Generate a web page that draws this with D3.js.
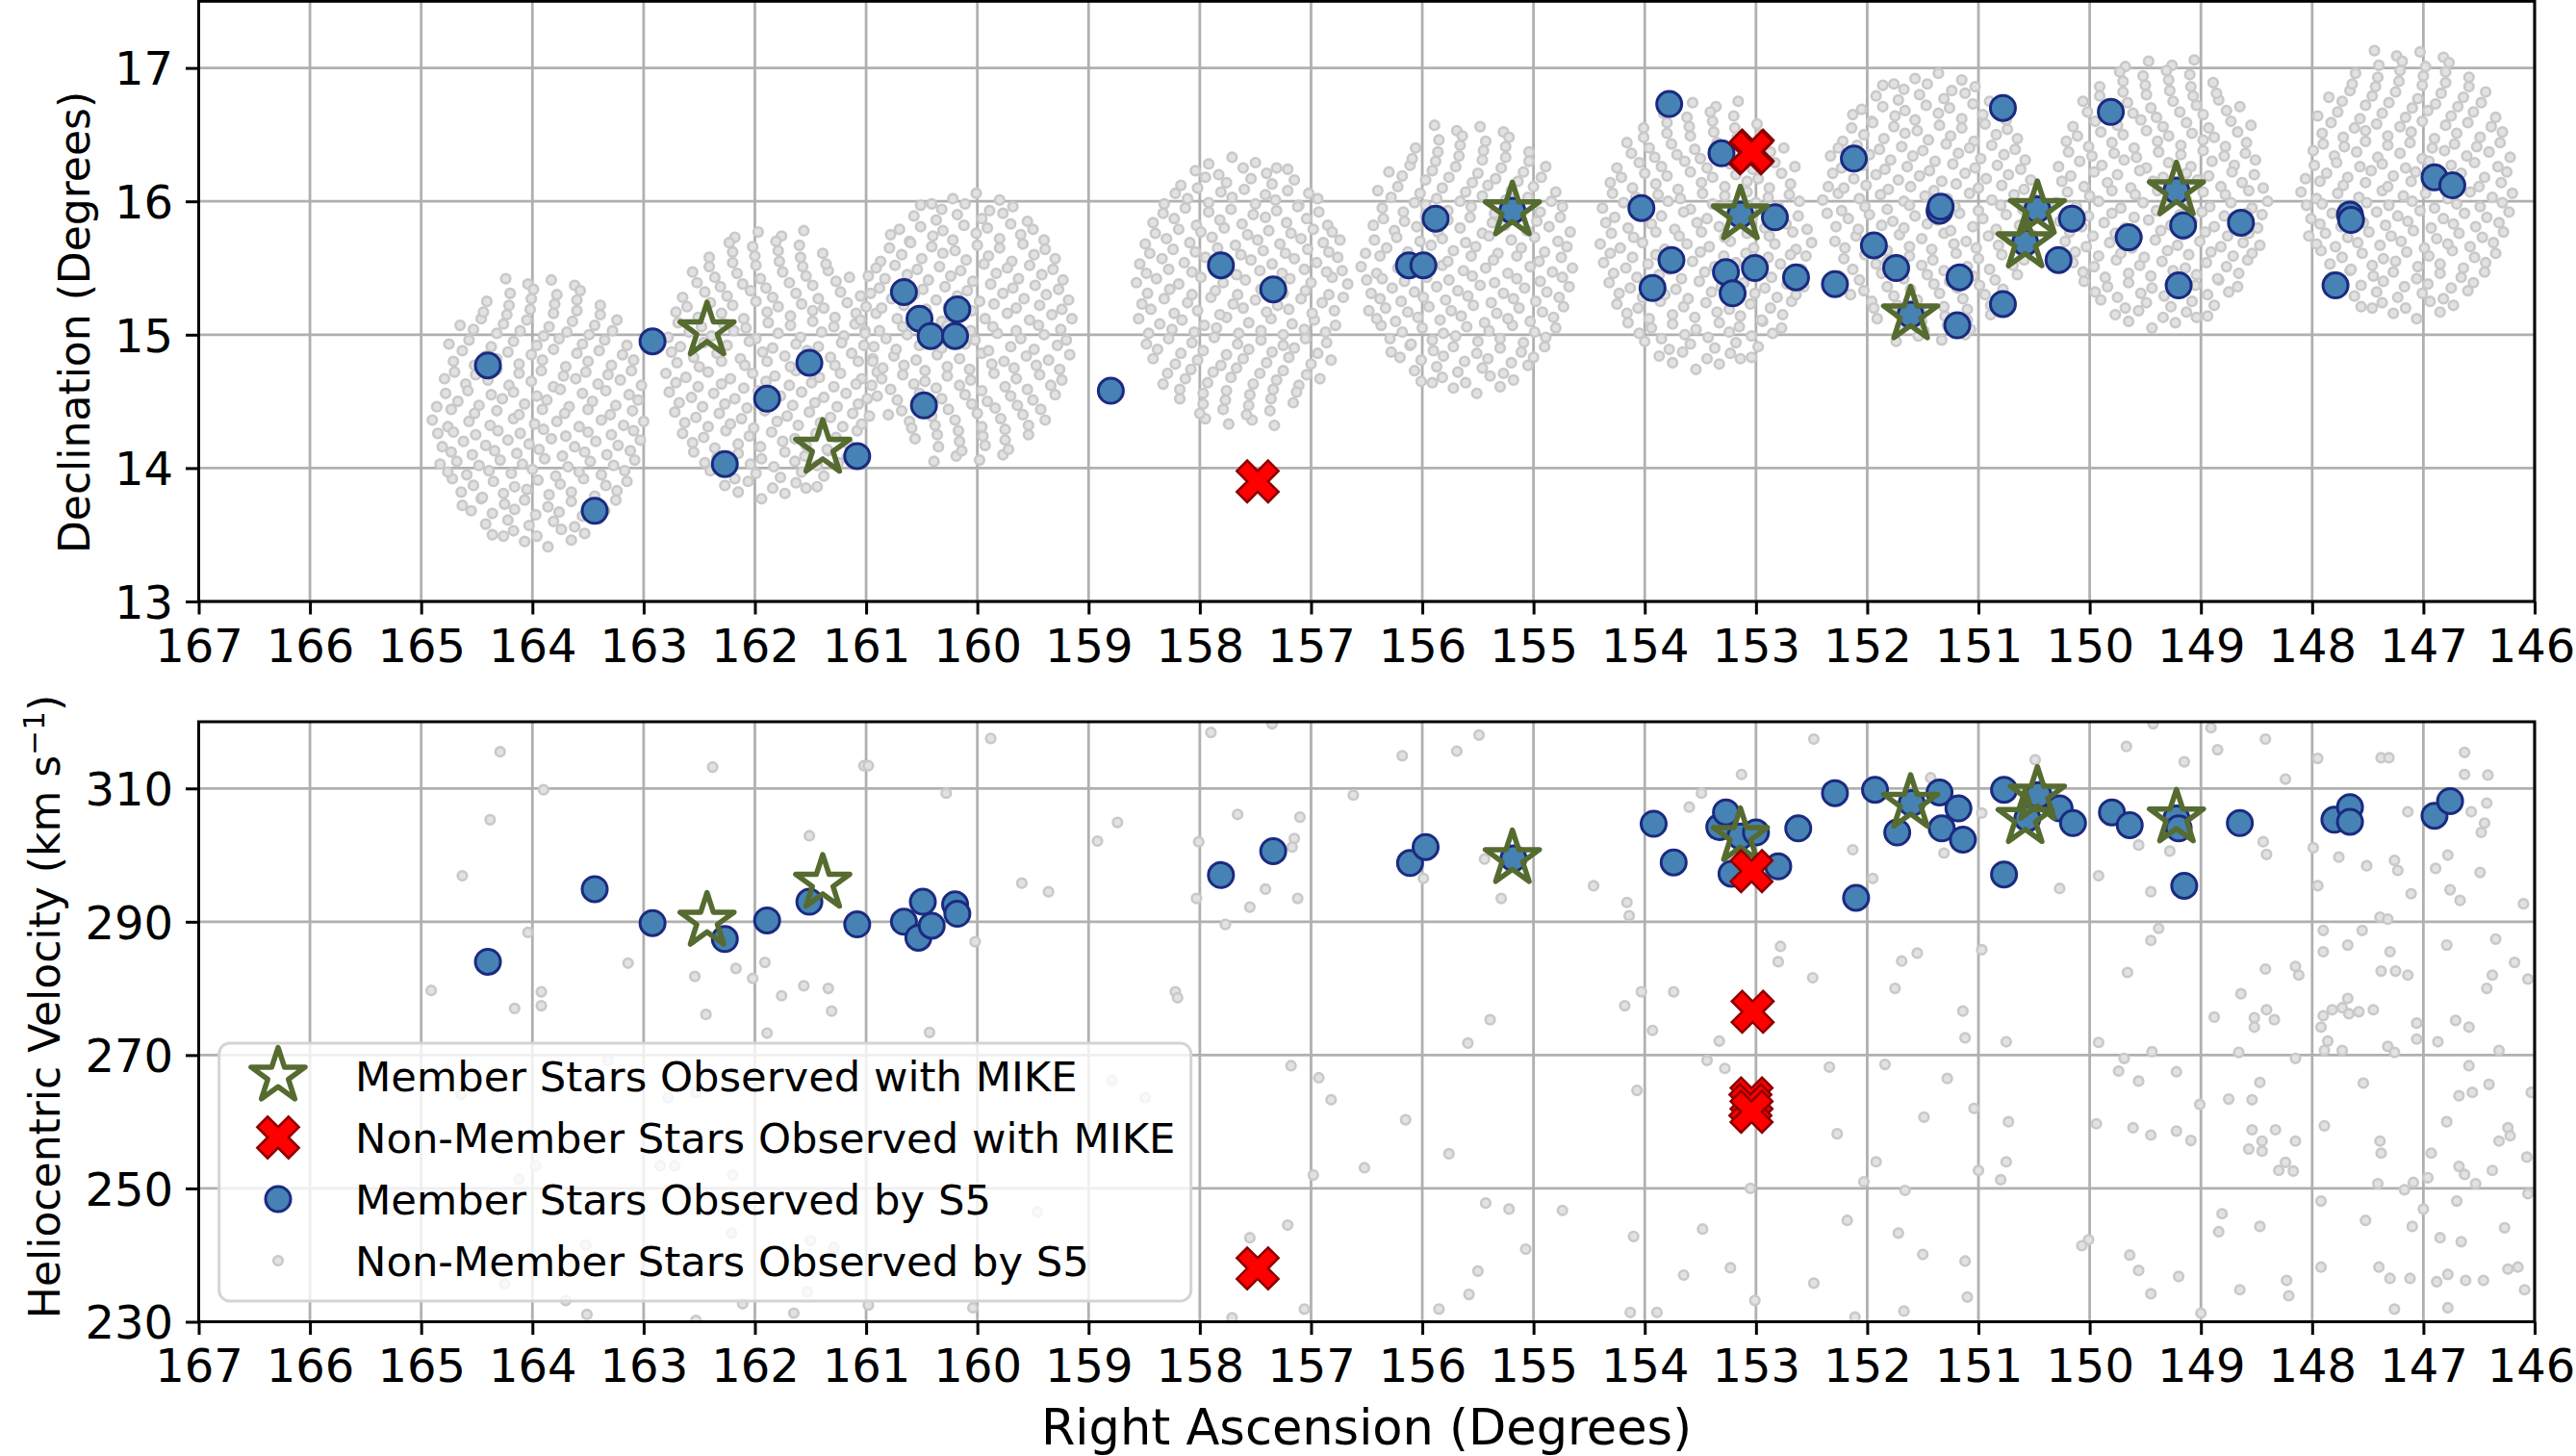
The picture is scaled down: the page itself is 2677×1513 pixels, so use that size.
<!DOCTYPE html>
<html><head><meta charset="utf-8">
<script src="https://cdn.jsdelivr.net/npm/d3@7"></script>
<style>body{margin:0;background:#fff;}svg{display:block;}</style>
</head><body>
<svg id="chart" width="2677" height="1513"></svg>
<script>
// ---------------- DATA ----------------
const raTickValues = [167,166,165,164,163,162,161,160,159,158,157,156,155,154,153,152,151,150,149,148,147,146];
const decTickValues = [13,14,15,16,17];
const velTickValues = [230,250,270,290,310];
const legendLabels = ["Member Stars Observed with MIKE","Non-Member Stars Observed with MIKE","Member Stars Observed by S5","Non-Member Stars Observed by S5"];

// MIKE members (stars)
const mikeMemberRA  = [162.43,161.39,155.19,153.14,151.61,150.47,150.58,149.22];
const mikeMemberDec = [15.03,14.15,15.93,15.90,15.15,15.94,15.69,16.08];
const mikeMemberVel = [290.1,295.8,299.5,302.8,307.8,309.0,305.5,305.6];
// MIKE non-members (X)
const mikeNonRA  = [157.48,153.04,153.03,153.04,153.05,153.04];
const mikeNonDec = [13.90,16.37,16.38,16.37,16.36,16.37];
const mikeNonVel = [238.0,297.6,276.5,263.5,262.5,261.5];

// S5 members, top panel [RA, Dec]
const s5MemberTop = [[164.40,14.77],[163.44,13.68],[162.92,14.95],[162.27,14.03],[161.89,14.52],[161.51,14.79],[161.08,14.09],
[160.66,15.32],[160.52,15.12],[160.48,14.47],[160.42,14.99],[160.20,14.99],[160.18,15.19],[158.80,14.58],[157.81,15.52],[157.34,15.34],
[156.12,15.52],[155.99,15.52],[155.88,15.87],[155.19,15.93],[154.03,15.95],[153.78,16.73],[153.76,15.56],[153.93,15.35],[153.31,16.36],
[153.27,15.47],[153.21,15.31],[153.14,15.90],[153.01,15.50],[152.83,15.88],[152.64,15.43],[152.29,15.38],[152.12,16.32],[151.94,15.67],
[151.74,15.50],[151.61,15.15],[151.35,15.93],[151.34,15.96],[151.17,15.43],[151.19,15.07],[150.78,16.70],[150.78,15.23],[150.47,15.94],
[150.58,15.69],[150.28,15.56],[150.16,15.87],[149.81,16.67],[149.65,15.73],[149.22,16.08],[149.16,15.82],[149.20,15.37],[148.64,15.84],
[147.79,15.37],[147.66,15.90],[147.65,15.86],[146.90,16.18],[146.74,16.12]];
// S5 members, bottom panel [RA, velocity]
const s5MemberBottom = [[164.40,284.0],[163.44,294.9],[162.92,289.8],[162.27,287.4],[161.89,290.2],[161.51,293.0],[161.08,289.6],
[160.66,290.0],[160.53,287.6],[160.49,293.0],[160.41,289.4],[160.20,292.6],[160.18,291.2],[157.81,297.0],[157.34,300.6],[156.11,298.8],
[155.97,301.2],[155.18,299.5],[153.92,304.7],[153.74,298.9],[153.33,304.2],[153.27,306.4],[153.22,297.2],[153.14,302.8],[153.00,303.4],
[152.80,298.3],[152.62,304.0],[152.29,309.3],[152.10,293.6],[151.93,309.8],[151.60,307.8],[151.73,303.4],[151.35,309.4],[151.33,304.0],
[151.18,307.0],[151.14,302.3],[150.77,309.8],[150.77,297.1],[150.46,309.0],[150.56,305.5],[150.27,307.0],[150.15,304.8],[149.80,306.4],
[149.64,304.5],[149.22,305.5],[149.20,304.0],[149.15,295.4],[148.65,304.8],[147.80,305.3],[147.66,307.2],[147.66,305.0],[146.90,305.9],[146.76,308.1]];

// S5 non-members, top panel, one array per S5 field [RA, Dec]
const field1 = [[163.65,13.46],[163.86,13.41],[164.07,13.45],[164.26,13.49],
[163.40,13.62],[163.62,13.56],[163.81,13.60],[164.03,13.57],[164.22,13.61],[164.42,13.58],
[163.25,13.76],[163.46,13.72],[163.65,13.75],[163.86,13.71],[164.07,13.76],[164.25,13.73],[164.46,13.77],[164.63,13.72],
[163.15,13.90],[163.34,13.87],[163.54,13.92],[163.75,13.88],[163.95,13.91],[164.16,13.86],[164.35,13.90],[164.53,13.87],[164.72,13.92],
[163.08,14.06],[163.27,14.02],[163.48,14.05],[163.68,14.01],[163.89,14.07],[164.09,14.03],[164.29,14.06],[164.48,14.02],[164.68,14.05],[164.83,14.03],
[163.03,14.21],[163.23,14.17],[163.43,14.20],[163.62,14.16],[163.83,14.22],[164.03,14.18],[164.22,14.21],[164.42,14.17],[164.62,14.20],[164.81,14.16],
[163.00,14.35],[163.18,14.32],[163.38,14.36],[163.58,14.31],[163.78,14.35],[163.98,14.33],[164.17,14.37],[164.38,14.32],[164.57,14.35],[164.76,14.31],[164.90,14.36],
[163.05,14.51],[163.25,14.47],[163.46,14.50],[163.67,14.46],[163.87,14.51],[164.07,14.48],[164.27,14.52],[164.48,14.47],[164.67,14.50],[164.86,14.46],
[163.02,14.62],[163.21,14.66],[163.41,14.63],[163.61,14.67],[163.81,14.61],[164.01,14.65],[164.21,14.62],[164.40,14.66],[164.60,14.63],[164.79,14.67],
[163.09,14.81],[163.29,14.77],[163.50,14.80],[163.70,14.76],[163.91,14.81],[164.12,14.78],[164.32,14.82],[164.52,14.77],[164.71,14.80],
[163.15,14.92],[163.35,14.96],[163.55,14.93],[163.76,14.97],[163.96,14.92],[164.17,14.95],[164.37,14.91],[164.57,14.96],[164.75,14.93],
[163.24,15.11],[163.44,15.07],[163.64,15.10],[163.85,15.06],[164.05,15.11],[164.26,15.08],[164.46,15.12],[164.65,15.07],
[163.39,15.22],[163.60,15.26],[163.80,15.23],[164.01,15.27],[164.21,15.22],[164.41,15.25],
[163.62,15.37],[163.83,15.41],[164.04,15.38],[164.24,15.42],
[163.53,13.51],[163.74,13.54],[163.96,13.49],[164.17,13.53],[164.36,13.50],
[163.35,13.68],[163.55,13.64],[163.76,13.67],[163.97,13.65],[164.16,13.69],[164.36,13.66],[164.55,13.68],
[163.24,13.83],[163.44,13.79],[163.65,13.82],[163.85,13.80],[164.05,13.84],[164.26,13.81],[164.45,13.78],[164.64,13.82],
[163.17,13.98],[163.38,13.95],[163.58,13.97],[163.79,13.94],[164.00,13.99],[164.19,13.96],[164.39,13.98],[164.59,13.95],[164.76,13.97],
[163.12,14.13],[163.33,14.10],[163.53,14.12],[163.73,14.09],[163.94,14.14],[164.14,14.11],[164.34,14.13],[164.54,14.10],[164.73,14.12],
[163.09,14.28],[163.29,14.25],[163.50,14.27],[163.70,14.24],[163.90,14.29],[164.11,14.26],[164.31,14.28],[164.51,14.25],[164.71,14.27],[164.85,14.26],
[163.10,14.43],[163.30,14.40],[163.50,14.44],[163.71,14.41],[163.91,14.44],[164.12,14.40],[164.32,14.43],[164.52,14.41],[164.73,14.44],
[163.13,14.55],[163.34,14.58],[163.55,14.56],[163.75,14.59],[163.96,14.54],[164.17,14.57],[164.37,14.55],[164.58,14.58],[164.78,14.56],
[163.11,14.73],[163.32,14.70],[163.52,14.72],[163.72,14.69],[163.92,14.73],[164.12,14.71],[164.32,14.74],[164.51,14.70],[164.70,14.72],
[163.19,14.85],[163.40,14.88],[163.60,14.86],[163.81,14.89],[164.01,14.85],[164.22,14.87],[164.42,14.84],[164.63,14.88],
[163.28,15.03],[163.49,15.00],[163.69,15.02],[163.90,14.99],[164.11,15.03],[164.32,15.01],[164.53,15.04],
[163.39,15.15],[163.60,15.18],[163.81,15.16],[164.02,15.19],[164.23,15.15],[164.44,15.17],
[163.57,15.33],[163.78,15.30],[163.99,15.34],[164.20,15.31]];
const field2 = [[162.15,13.82],[161.94,13.77],[161.73,13.81],[161.54,13.85],
[162.40,13.98],[162.18,13.92],[161.99,13.96],[161.77,13.93],[161.58,13.97],[161.38,13.94],
[162.55,14.12],[162.34,14.08],[162.15,14.11],[161.94,14.07],[161.73,14.12],[161.55,14.09],[161.34,14.13],[161.17,14.08],
[162.65,14.26],[162.46,14.23],[162.26,14.28],[162.05,14.24],[161.85,14.27],[161.64,14.22],[161.45,14.26],[161.27,14.23],[161.08,14.28],
[162.72,14.42],[162.53,14.38],[162.32,14.41],[162.12,14.37],[161.91,14.43],[161.71,14.39],[161.51,14.42],[161.32,14.38],[161.12,14.41],[160.97,14.39],
[162.77,14.57],[162.57,14.53],[162.37,14.56],[162.18,14.52],[161.97,14.58],[161.77,14.54],[161.58,14.57],[161.38,14.53],[161.18,14.56],[160.99,14.52],
[162.80,14.71],[162.62,14.68],[162.42,14.72],[162.22,14.67],[162.02,14.71],[161.82,14.69],[161.63,14.73],[161.42,14.68],[161.23,14.71],[161.04,14.67],[160.90,14.72],
[162.75,14.87],[162.55,14.83],[162.34,14.86],[162.13,14.82],[161.93,14.87],[161.73,14.84],[161.53,14.88],[161.32,14.83],[161.13,14.86],[160.94,14.82],
[162.78,14.98],[162.59,15.02],[162.39,14.99],[162.19,15.03],[161.99,14.97],[161.79,15.01],[161.59,14.98],[161.40,15.02],[161.20,14.99],[161.01,15.03],
[162.71,15.17],[162.51,15.13],[162.30,15.16],[162.10,15.12],[161.89,15.17],[161.68,15.14],[161.48,15.18],[161.28,15.13],[161.09,15.16],
[162.65,15.28],[162.45,15.32],[162.25,15.29],[162.04,15.33],[161.84,15.28],[161.63,15.31],[161.43,15.27],[161.23,15.32],[161.05,15.29],
[162.56,15.47],[162.36,15.43],[162.16,15.46],[161.95,15.42],[161.75,15.47],[161.54,15.44],[161.34,15.48],[161.15,15.43],
[162.41,15.58],[162.20,15.62],[162.00,15.59],[161.79,15.63],[161.59,15.58],[161.39,15.61],
[162.18,15.73],[161.97,15.77],[161.76,15.74],[161.56,15.78],
[162.27,13.87],[162.06,13.90],[161.84,13.85],[161.63,13.89],[161.44,13.86],
[162.45,14.04],[162.25,14.00],[162.04,14.03],[161.83,14.01],[161.64,14.05],[161.44,14.02],[161.25,14.04],
[162.56,14.19],[162.36,14.15],[162.15,14.18],[161.95,14.16],[161.75,14.20],[161.54,14.17],[161.35,14.14],[161.16,14.18],
[162.63,14.34],[162.42,14.31],[162.22,14.33],[162.01,14.30],[161.80,14.35],[161.61,14.32],[161.41,14.34],[161.21,14.31],[161.04,14.33],
[162.68,14.49],[162.47,14.46],[162.27,14.48],[162.07,14.45],[161.86,14.50],[161.66,14.47],[161.46,14.49],[161.26,14.46],[161.07,14.48],
[162.71,14.64],[162.51,14.61],[162.30,14.63],[162.10,14.60],[161.90,14.65],[161.69,14.62],[161.49,14.64],[161.29,14.61],[161.09,14.63],[160.95,14.62],
[162.70,14.79],[162.50,14.76],[162.30,14.80],[162.09,14.77],[161.89,14.80],[161.68,14.76],[161.48,14.79],[161.28,14.77],[161.07,14.80],
[162.67,14.91],[162.46,14.94],[162.25,14.92],[162.05,14.95],[161.84,14.90],[161.63,14.93],[161.43,14.91],[161.22,14.94],[161.02,14.92],
[162.69,15.09],[162.48,15.06],[162.28,15.08],[162.08,15.05],[161.88,15.09],[161.68,15.07],[161.48,15.10],[161.29,15.06],[161.10,15.08],
[162.61,15.21],[162.40,15.24],[162.20,15.22],[161.99,15.25],[161.79,15.21],[161.58,15.23],[161.38,15.20],[161.17,15.24],
[162.52,15.39],[162.31,15.36],[162.11,15.38],[161.90,15.35],[161.69,15.39],[161.48,15.37],[161.27,15.40],
[162.41,15.51],[162.20,15.54],[161.99,15.52],[161.78,15.55],[161.57,15.51],[161.36,15.53],
[162.23,15.69],[162.02,15.66],[161.81,15.70],[161.60,15.67]];
const field3 = [[159.80,16.01],[160.01,16.06],[160.22,16.02],[160.41,15.98],
[159.55,15.85],[159.77,15.91],[159.96,15.87],[160.18,15.90],[160.37,15.86],[160.57,15.89],
[159.40,15.71],[159.61,15.75],[159.80,15.72],[160.01,15.76],[160.22,15.71],[160.40,15.74],[160.61,15.70],[160.78,15.75],
[159.30,15.57],[159.49,15.60],[159.69,15.55],[159.90,15.59],[160.10,15.56],[160.31,15.61],[160.50,15.57],[160.68,15.60],[160.87,15.55],
[159.23,15.41],[159.42,15.45],[159.63,15.42],[159.83,15.46],[160.04,15.40],[160.24,15.44],[160.44,15.41],[160.63,15.45],[160.83,15.42],[160.98,15.44],
[159.18,15.26],[159.38,15.30],[159.58,15.27],[159.77,15.31],[159.98,15.25],[160.18,15.29],[160.37,15.26],[160.57,15.30],[160.77,15.27],[160.96,15.31],
[159.15,15.12],[159.33,15.15],[159.53,15.11],[159.73,15.16],[159.93,15.12],[160.13,15.14],[160.32,15.10],[160.53,15.15],[160.72,15.12],[160.91,15.16],[161.05,15.11],
[159.20,14.96],[159.40,15.00],[159.61,14.97],[159.82,15.01],[160.02,14.96],[160.22,14.99],[160.42,14.95],[160.63,15.00],[160.82,14.97],[161.01,15.01],
[159.17,14.85],[159.36,14.81],[159.56,14.84],[159.76,14.80],[159.96,14.86],[160.16,14.82],[160.36,14.85],[160.55,14.81],[160.75,14.84],[160.94,14.80],
[159.24,14.66],[159.44,14.70],[159.65,14.67],[159.85,14.71],[160.06,14.66],[160.27,14.69],[160.47,14.65],[160.67,14.70],[160.86,14.67],
[159.30,14.55],[159.50,14.51],[159.70,14.54],[159.91,14.50],[160.11,14.55],[160.32,14.52],[160.52,14.56],[160.72,14.51],[160.90,14.54],
[159.39,14.36],[159.59,14.40],[159.79,14.37],[160.00,14.41],[160.20,14.36],[160.41,14.39],[160.61,14.35],[160.80,14.40],
[159.54,14.25],[159.75,14.21],[159.95,14.24],[160.16,14.20],[160.36,14.25],[160.56,14.22],
[159.77,14.10],[159.98,14.06],[160.19,14.09],[160.39,14.05],
[159.68,15.96],[159.89,15.93],[160.11,15.98],[160.32,15.94],[160.51,15.97],
[159.50,15.79],[159.70,15.83],[159.91,15.80],[160.12,15.82],[160.31,15.78],[160.51,15.81],[160.70,15.79],
[159.39,15.64],[159.59,15.68],[159.80,15.65],[160.00,15.67],[160.20,15.63],[160.41,15.66],[160.60,15.69],[160.79,15.65],
[159.32,15.49],[159.53,15.52],[159.73,15.50],[159.94,15.53],[160.15,15.48],[160.34,15.51],[160.54,15.49],[160.74,15.52],[160.91,15.50],
[159.27,15.34],[159.48,15.37],[159.68,15.35],[159.88,15.38],[160.09,15.33],[160.29,15.36],[160.49,15.34],[160.69,15.37],[160.88,15.35],
[159.24,15.19],[159.44,15.22],[159.65,15.20],[159.85,15.23],[160.05,15.18],[160.26,15.21],[160.46,15.19],[160.66,15.22],[160.86,15.20],[161.00,15.21],
[159.25,15.04],[159.45,15.07],[159.65,15.03],[159.86,15.06],[160.06,15.03],[160.27,15.07],[160.47,15.04],[160.67,15.06],[160.88,15.03],
[159.28,14.92],[159.49,14.89],[159.70,14.91],[159.90,14.88],[160.11,14.93],[160.32,14.90],[160.52,14.92],[160.73,14.89],[160.93,14.91],
[159.26,14.74],[159.47,14.77],[159.67,14.75],[159.87,14.78],[160.07,14.74],[160.27,14.76],[160.47,14.73],[160.66,14.77],[160.85,14.75],
[159.34,14.62],[159.55,14.59],[159.75,14.61],[159.96,14.58],[160.16,14.62],[160.37,14.60],[160.57,14.63],[160.78,14.59],
[159.43,14.44],[159.64,14.47],[159.84,14.45],[160.05,14.48],[160.26,14.44],[160.47,14.46],[160.68,14.43],
[159.54,14.32],[159.75,14.29],[159.96,14.31],[160.17,14.28],[160.38,14.32],[160.59,14.30],
[159.72,14.14],[159.93,14.17],[160.14,14.13],[160.35,14.16]];
const field4 = [[157.92,16.28],[157.71,16.33],[157.50,16.29],[157.31,16.25],
[158.17,16.12],[157.95,16.18],[157.76,16.14],[157.54,16.17],[157.35,16.13],[157.15,16.16],
[158.32,15.98],[158.11,16.02],[157.92,15.99],[157.71,16.03],[157.50,15.98],[157.32,16.01],[157.11,15.97],[156.94,16.02],
[158.42,15.84],[158.23,15.87],[158.03,15.82],[157.82,15.86],[157.62,15.83],[157.41,15.88],[157.22,15.84],[157.04,15.87],[156.85,15.82],
[158.49,15.68],[158.30,15.72],[158.09,15.69],[157.89,15.73],[157.68,15.67],[157.48,15.71],[157.28,15.68],[157.09,15.72],[156.89,15.69],[156.74,15.71],
[158.54,15.53],[158.34,15.57],[158.14,15.54],[157.95,15.58],[157.74,15.52],[157.54,15.56],[157.35,15.53],[157.15,15.57],[156.95,15.54],[156.76,15.58],
[158.57,15.39],[158.39,15.42],[158.19,15.38],[157.99,15.43],[157.79,15.39],[157.59,15.41],[157.40,15.37],[157.19,15.42],[157.00,15.39],[156.81,15.43],[156.67,15.38],
[158.52,15.23],[158.32,15.27],[158.11,15.24],[157.90,15.28],[157.70,15.23],[157.50,15.26],[157.30,15.22],[157.09,15.27],[156.90,15.24],[156.71,15.28],
[158.55,15.12],[158.36,15.08],[158.16,15.11],[157.96,15.07],[157.76,15.13],[157.56,15.09],[157.36,15.12],[157.17,15.08],[156.97,15.11],[156.78,15.07],
[158.48,14.93],[158.28,14.97],[158.07,14.94],[157.87,14.98],[157.66,14.93],[157.45,14.96],[157.25,14.92],[157.05,14.97],[156.86,14.94],
[158.42,14.82],[158.22,14.78],[158.02,14.81],[157.81,14.77],[157.61,14.82],[157.40,14.79],[157.20,14.83],[157.00,14.78],[156.82,14.81],
[158.33,14.63],[158.13,14.67],[157.93,14.64],[157.72,14.68],[157.52,14.63],[157.31,14.66],[157.11,14.62],[156.92,14.67],
[158.18,14.52],[157.97,14.48],[157.77,14.51],[157.56,14.47],[157.36,14.52],[157.16,14.49],
[157.95,14.37],[157.74,14.33],[157.53,14.36],[157.33,14.32],
[158.04,16.23],[157.83,16.20],[157.61,16.25],[157.40,16.21],[157.21,16.24],
[158.22,16.06],[158.02,16.10],[157.81,16.07],[157.60,16.09],[157.41,16.05],[157.21,16.08],[157.02,16.06],
[158.33,15.91],[158.13,15.95],[157.92,15.92],[157.72,15.94],[157.52,15.90],[157.31,15.93],[157.12,15.96],[156.93,15.92],
[158.40,15.76],[158.19,15.79],[157.99,15.77],[157.78,15.80],[157.57,15.75],[157.38,15.78],[157.18,15.76],[156.98,15.79],[156.81,15.77],
[158.45,15.61],[158.24,15.64],[158.04,15.62],[157.84,15.65],[157.63,15.60],[157.43,15.63],[157.23,15.61],[157.03,15.64],[156.84,15.62],
[158.48,15.46],[158.28,15.49],[158.07,15.47],[157.87,15.50],[157.67,15.45],[157.46,15.48],[157.26,15.46],[157.06,15.49],[156.86,15.47],[156.72,15.48],
[158.47,15.31],[158.27,15.34],[158.07,15.30],[157.86,15.33],[157.66,15.30],[157.45,15.34],[157.25,15.31],[157.05,15.33],[156.84,15.30],
[158.44,15.19],[158.23,15.16],[158.02,15.18],[157.82,15.15],[157.61,15.20],[157.40,15.17],[157.20,15.19],[156.99,15.16],[156.79,15.18],
[158.46,15.01],[158.25,15.04],[158.05,15.02],[157.85,15.05],[157.65,15.01],[157.45,15.03],[157.25,15.00],[157.06,15.04],[156.87,15.02],
[158.38,14.89],[158.17,14.86],[157.97,14.88],[157.76,14.85],[157.56,14.89],[157.35,14.87],[157.15,14.90],[156.94,14.86],
[158.29,14.71],[158.08,14.74],[157.88,14.72],[157.67,14.75],[157.46,14.71],[157.25,14.73],[157.04,14.70],
[158.18,14.59],[157.97,14.56],[157.76,14.58],[157.55,14.55],[157.34,14.59],[157.13,14.57],
[158.00,14.41],[157.79,14.44],[157.58,14.40],[157.37,14.43]];
const field5 = [[155.30,14.61],[155.51,14.56],[155.72,14.60],[155.91,14.64],
[155.05,14.77],[155.27,14.71],[155.46,14.75],[155.68,14.72],[155.87,14.76],[156.07,14.73],
[154.90,14.91],[155.11,14.87],[155.30,14.90],[155.51,14.86],[155.72,14.91],[155.90,14.88],[156.11,14.92],[156.28,14.87],
[154.80,15.05],[154.99,15.02],[155.19,15.07],[155.40,15.03],[155.60,15.06],[155.81,15.01],[156.00,15.05],[156.18,15.02],[156.37,15.07],
[154.73,15.21],[154.92,15.17],[155.13,15.20],[155.33,15.16],[155.54,15.22],[155.74,15.18],[155.94,15.21],[156.13,15.17],[156.33,15.20],[156.48,15.18],
[154.68,15.36],[154.88,15.32],[155.08,15.35],[155.27,15.31],[155.48,15.37],[155.68,15.33],[155.87,15.36],[156.07,15.32],[156.27,15.35],[156.46,15.31],
[154.65,15.50],[154.83,15.47],[155.03,15.51],[155.23,15.46],[155.43,15.50],[155.63,15.48],[155.82,15.52],[156.03,15.47],[156.22,15.50],[156.41,15.46],[156.55,15.51],
[154.70,15.66],[154.90,15.62],[155.11,15.65],[155.32,15.61],[155.52,15.66],[155.72,15.63],[155.92,15.67],[156.13,15.62],[156.32,15.65],[156.51,15.61],
[154.67,15.77],[154.86,15.81],[155.06,15.78],[155.26,15.82],[155.46,15.76],[155.66,15.80],[155.86,15.77],[156.05,15.81],[156.25,15.78],[156.44,15.82],
[154.74,15.96],[154.94,15.92],[155.15,15.95],[155.35,15.91],[155.56,15.96],[155.77,15.93],[155.97,15.97],[156.17,15.92],[156.36,15.95],
[154.80,16.07],[155.00,16.11],[155.20,16.08],[155.41,16.12],[155.61,16.07],[155.82,16.10],[156.02,16.06],[156.22,16.11],[156.40,16.08],
[154.89,16.26],[155.09,16.22],[155.29,16.25],[155.50,16.21],[155.70,16.26],[155.91,16.23],[156.11,16.27],[156.30,16.22],
[155.04,16.37],[155.25,16.41],[155.45,16.38],[155.66,16.42],[155.86,16.37],[156.06,16.40],
[155.27,16.52],[155.48,16.56],[155.69,16.53],[155.89,16.57],
[155.18,14.66],[155.39,14.69],[155.61,14.64],[155.82,14.68],[156.01,14.65],
[155.00,14.83],[155.20,14.79],[155.41,14.82],[155.62,14.80],[155.81,14.84],[156.01,14.81],[156.20,14.83],
[154.89,14.98],[155.09,14.94],[155.30,14.97],[155.50,14.95],[155.70,14.99],[155.91,14.96],[156.10,14.93],[156.29,14.97],
[154.82,15.13],[155.03,15.10],[155.23,15.12],[155.44,15.09],[155.65,15.14],[155.84,15.11],[156.04,15.13],[156.24,15.10],[156.41,15.12],
[154.77,15.28],[154.98,15.25],[155.18,15.27],[155.38,15.24],[155.59,15.29],[155.79,15.26],[155.99,15.28],[156.19,15.25],[156.38,15.27],
[154.74,15.43],[154.94,15.40],[155.15,15.42],[155.35,15.39],[155.55,15.44],[155.76,15.41],[155.96,15.43],[156.16,15.40],[156.36,15.42],[156.50,15.41],
[154.75,15.58],[154.95,15.55],[155.15,15.59],[155.36,15.56],[155.56,15.59],[155.77,15.55],[155.97,15.58],[156.17,15.56],[156.38,15.59],
[154.78,15.70],[154.99,15.73],[155.20,15.71],[155.40,15.74],[155.61,15.69],[155.82,15.72],[156.02,15.70],[156.23,15.73],[156.43,15.71],
[154.76,15.88],[154.97,15.85],[155.17,15.87],[155.37,15.84],[155.57,15.88],[155.77,15.86],[155.97,15.89],[156.16,15.85],[156.35,15.87],
[154.84,16.00],[155.05,16.03],[155.25,16.01],[155.46,16.04],[155.66,16.00],[155.87,16.02],[156.07,15.99],[156.28,16.03],
[154.93,16.18],[155.14,16.15],[155.34,16.17],[155.55,16.14],[155.76,16.18],[155.97,16.16],[156.18,16.19],
[155.04,16.30],[155.25,16.33],[155.46,16.31],[155.67,16.34],[155.88,16.30],[156.09,16.32],
[155.22,16.48],[155.43,16.45],[155.64,16.49],[155.85,16.46]];
const field6 = [[153.75,14.79],[153.54,14.74],[153.33,14.78],[153.14,14.82],
[154.00,14.95],[153.78,14.89],[153.59,14.93],[153.37,14.90],[153.18,14.94],[152.98,14.91],
[154.15,15.09],[153.94,15.05],[153.75,15.08],[153.54,15.04],[153.33,15.09],[153.15,15.06],[152.94,15.10],[152.77,15.05],
[154.25,15.23],[154.06,15.20],[153.86,15.25],[153.65,15.21],[153.45,15.24],[153.24,15.19],[153.05,15.23],[152.87,15.20],[152.68,15.25],
[154.32,15.39],[154.13,15.35],[153.92,15.38],[153.72,15.34],[153.51,15.40],[153.31,15.36],[153.11,15.39],[152.92,15.35],[152.72,15.38],[152.57,15.36],
[154.37,15.54],[154.17,15.50],[153.97,15.53],[153.78,15.49],[153.57,15.55],[153.37,15.51],[153.18,15.54],[152.98,15.50],[152.78,15.53],[152.59,15.49],
[154.40,15.68],[154.22,15.65],[154.02,15.69],[153.82,15.64],[153.62,15.68],[153.42,15.66],[153.23,15.70],[153.02,15.65],[152.83,15.68],[152.64,15.64],[152.50,15.69],
[154.35,15.84],[154.15,15.80],[153.94,15.83],[153.73,15.79],[153.53,15.84],[153.33,15.81],[153.13,15.85],[152.92,15.80],[152.73,15.83],[152.54,15.79],
[154.38,15.95],[154.19,15.99],[153.99,15.96],[153.79,16.00],[153.59,15.94],[153.39,15.98],[153.19,15.95],[153.00,15.99],[152.80,15.96],[152.61,16.00],
[154.31,16.14],[154.11,16.10],[153.90,16.13],[153.70,16.09],[153.49,16.14],[153.28,16.11],[153.08,16.15],[152.88,16.10],[152.69,16.13],
[154.25,16.25],[154.05,16.29],[153.85,16.26],[153.64,16.30],[153.44,16.25],[153.23,16.28],[153.03,16.24],[152.83,16.29],[152.65,16.26],
[154.16,16.44],[153.96,16.40],[153.76,16.43],[153.55,16.39],[153.35,16.44],[153.14,16.41],[152.94,16.45],[152.75,16.40],
[154.01,16.55],[153.80,16.59],[153.60,16.56],[153.39,16.60],[153.19,16.55],[152.99,16.58],
[153.78,16.70],[153.57,16.74],[153.36,16.71],[153.16,16.75],
[153.87,14.84],[153.66,14.87],[153.44,14.82],[153.23,14.86],[153.04,14.83],
[154.05,15.01],[153.85,14.97],[153.64,15.00],[153.43,14.98],[153.24,15.02],[153.04,14.99],[152.85,15.01],
[154.16,15.16],[153.96,15.12],[153.75,15.15],[153.55,15.13],[153.35,15.17],[153.14,15.14],[152.95,15.11],[152.76,15.15],
[154.23,15.31],[154.02,15.28],[153.82,15.30],[153.61,15.27],[153.40,15.32],[153.21,15.29],[153.01,15.31],[152.81,15.28],[152.64,15.30],
[154.28,15.46],[154.07,15.43],[153.87,15.45],[153.67,15.42],[153.46,15.47],[153.26,15.44],[153.06,15.46],[152.86,15.43],[152.67,15.45],
[154.31,15.61],[154.11,15.58],[153.90,15.60],[153.70,15.57],[153.50,15.62],[153.29,15.59],[153.09,15.61],[152.89,15.58],[152.69,15.60],[152.55,15.59],
[154.30,15.76],[154.10,15.73],[153.90,15.77],[153.69,15.74],[153.49,15.77],[153.28,15.73],[153.08,15.76],[152.88,15.74],[152.67,15.77],
[154.27,15.88],[154.06,15.91],[153.85,15.89],[153.65,15.92],[153.44,15.87],[153.23,15.90],[153.03,15.88],[152.82,15.91],[152.62,15.89],
[154.29,16.06],[154.08,16.03],[153.88,16.05],[153.68,16.02],[153.48,16.06],[153.28,16.04],[153.08,16.07],[152.89,16.03],[152.70,16.05],
[154.21,16.18],[154.00,16.21],[153.80,16.19],[153.59,16.22],[153.39,16.18],[153.18,16.20],[152.98,16.17],[152.77,16.21],
[154.12,16.36],[153.91,16.33],[153.71,16.35],[153.50,16.32],[153.29,16.36],[153.08,16.34],[152.87,16.37],
[154.01,16.48],[153.80,16.51],[153.59,16.49],[153.38,16.52],[153.17,16.48],[152.96,16.50],
[153.83,16.66],[153.62,16.63],[153.41,16.67],[153.20,16.64]];
const field7 = [[151.15,16.91],[151.36,16.96],[151.57,16.92],[151.76,16.88],
[150.90,16.75],[151.12,16.81],[151.31,16.77],[151.53,16.80],[151.72,16.76],[151.92,16.79],
[150.75,16.61],[150.96,16.65],[151.15,16.62],[151.36,16.66],[151.57,16.61],[151.75,16.64],[151.96,16.60],[152.13,16.65],
[150.65,16.47],[150.84,16.50],[151.04,16.45],[151.25,16.49],[151.45,16.46],[151.66,16.51],[151.85,16.47],[152.03,16.50],[152.22,16.45],
[150.58,16.31],[150.77,16.35],[150.98,16.32],[151.18,16.36],[151.39,16.30],[151.59,16.34],[151.79,16.31],[151.98,16.35],[152.18,16.32],[152.33,16.34],
[150.53,16.16],[150.73,16.20],[150.93,16.17],[151.12,16.21],[151.33,16.15],[151.53,16.19],[151.72,16.16],[151.92,16.20],[152.12,16.17],[152.31,16.21],
[150.50,16.02],[150.68,16.05],[150.88,16.01],[151.08,16.06],[151.28,16.02],[151.48,16.04],[151.67,16.00],[151.88,16.05],[152.07,16.02],[152.26,16.06],[152.40,16.01],
[150.55,15.86],[150.75,15.90],[150.96,15.87],[151.17,15.91],[151.37,15.86],[151.57,15.89],[151.77,15.85],[151.98,15.90],[152.17,15.87],[152.36,15.91],
[150.52,15.75],[150.71,15.71],[150.91,15.74],[151.11,15.70],[151.31,15.76],[151.51,15.72],[151.71,15.75],[151.90,15.71],[152.10,15.74],[152.29,15.70],
[150.59,15.56],[150.79,15.60],[151.00,15.57],[151.20,15.61],[151.41,15.56],[151.62,15.59],[151.82,15.55],[152.02,15.60],[152.21,15.57],
[150.65,15.45],[150.85,15.41],[151.05,15.44],[151.26,15.40],[151.46,15.45],[151.67,15.42],[151.87,15.46],[152.07,15.41],[152.25,15.44],
[150.74,15.26],[150.94,15.30],[151.14,15.27],[151.35,15.31],[151.55,15.26],[151.76,15.29],[151.96,15.25],[152.15,15.30],
[150.89,15.15],[151.10,15.11],[151.30,15.14],[151.51,15.10],[151.71,15.15],[151.91,15.12],
[151.12,15.00],[151.33,14.96],[151.54,14.99],[151.74,14.95],
[151.03,16.86],[151.24,16.83],[151.46,16.88],[151.67,16.84],[151.86,16.87],
[150.85,16.69],[151.05,16.73],[151.26,16.70],[151.47,16.72],[151.66,16.68],[151.86,16.71],[152.05,16.69],
[150.74,16.54],[150.94,16.58],[151.15,16.55],[151.35,16.57],[151.55,16.53],[151.76,16.56],[151.95,16.59],[152.14,16.55],
[150.67,16.39],[150.88,16.42],[151.08,16.40],[151.29,16.43],[151.50,16.38],[151.69,16.41],[151.89,16.39],[152.09,16.42],[152.26,16.40],
[150.62,16.24],[150.83,16.27],[151.03,16.25],[151.23,16.28],[151.44,16.23],[151.64,16.26],[151.84,16.24],[152.04,16.27],[152.23,16.25],
[150.59,16.09],[150.79,16.12],[151.00,16.10],[151.20,16.13],[151.40,16.08],[151.61,16.11],[151.81,16.09],[152.01,16.12],[152.21,16.10],[152.35,16.11],
[150.60,15.94],[150.80,15.97],[151.00,15.93],[151.21,15.96],[151.41,15.93],[151.62,15.97],[151.82,15.94],[152.02,15.96],[152.23,15.93],
[150.63,15.82],[150.84,15.79],[151.05,15.81],[151.25,15.78],[151.46,15.83],[151.67,15.80],[151.87,15.82],[152.08,15.79],[152.28,15.81],
[150.61,15.64],[150.82,15.67],[151.02,15.65],[151.22,15.68],[151.42,15.64],[151.62,15.66],[151.82,15.63],[152.01,15.67],[152.20,15.65],
[150.69,15.52],[150.90,15.49],[151.10,15.51],[151.31,15.48],[151.51,15.52],[151.72,15.50],[151.92,15.53],[152.13,15.49],
[150.78,15.34],[150.99,15.37],[151.19,15.35],[151.40,15.38],[151.61,15.34],[151.82,15.36],[152.03,15.33],
[150.89,15.22],[151.10,15.19],[151.31,15.21],[151.52,15.18],[151.73,15.22],[151.94,15.20],
[151.07,15.04],[151.28,15.07],[151.49,15.03],[151.70,15.06]];
const field8 = [[149.65,15.10],[149.44,15.05],[149.23,15.09],[149.04,15.13],
[149.90,15.26],[149.68,15.20],[149.49,15.24],[149.27,15.21],[149.08,15.25],[148.88,15.22],
[150.05,15.40],[149.84,15.36],[149.65,15.39],[149.44,15.35],[149.23,15.40],[149.05,15.37],[148.84,15.41],[148.67,15.36],
[150.15,15.54],[149.96,15.51],[149.76,15.56],[149.55,15.52],[149.35,15.55],[149.14,15.50],[148.95,15.54],[148.77,15.51],[148.58,15.56],
[150.22,15.70],[150.03,15.66],[149.82,15.69],[149.62,15.65],[149.41,15.71],[149.21,15.67],[149.01,15.70],[148.82,15.66],[148.62,15.69],[148.47,15.67],
[150.27,15.85],[150.07,15.81],[149.87,15.84],[149.68,15.80],[149.47,15.86],[149.27,15.82],[149.08,15.85],[148.88,15.81],[148.68,15.84],[148.49,15.80],
[150.30,15.99],[150.12,15.96],[149.92,16.00],[149.72,15.95],[149.52,15.99],[149.32,15.97],[149.13,16.01],[148.92,15.96],[148.73,15.99],[148.54,15.95],[148.40,16.00],
[150.25,16.15],[150.05,16.11],[149.84,16.14],[149.63,16.10],[149.43,16.15],[149.23,16.12],[149.03,16.16],[148.82,16.11],[148.63,16.14],[148.44,16.10],
[150.28,16.26],[150.09,16.30],[149.89,16.27],[149.69,16.31],[149.49,16.25],[149.29,16.29],[149.09,16.26],[148.90,16.30],[148.70,16.27],[148.51,16.31],
[150.21,16.45],[150.01,16.41],[149.80,16.44],[149.60,16.40],[149.39,16.45],[149.18,16.42],[148.98,16.46],[148.78,16.41],[148.59,16.44],
[150.15,16.56],[149.95,16.60],[149.75,16.57],[149.54,16.61],[149.34,16.56],[149.13,16.59],[148.93,16.55],[148.73,16.60],[148.55,16.57],
[150.06,16.75],[149.86,16.71],[149.66,16.74],[149.45,16.70],[149.25,16.75],[149.04,16.72],[148.84,16.76],[148.65,16.71],
[149.91,16.86],[149.70,16.90],[149.50,16.87],[149.29,16.91],[149.09,16.86],[148.89,16.89],
[149.68,17.01],[149.47,17.05],[149.26,17.02],[149.06,17.06],
[149.77,15.15],[149.56,15.18],[149.34,15.13],[149.13,15.17],[148.94,15.14],
[149.95,15.32],[149.75,15.28],[149.54,15.31],[149.33,15.29],[149.14,15.33],[148.94,15.30],[148.75,15.32],
[150.06,15.47],[149.86,15.43],[149.65,15.46],[149.45,15.44],[149.25,15.48],[149.04,15.45],[148.85,15.42],[148.66,15.46],
[150.13,15.62],[149.92,15.59],[149.72,15.61],[149.51,15.58],[149.30,15.63],[149.11,15.60],[148.91,15.62],[148.71,15.59],[148.54,15.61],
[150.18,15.77],[149.97,15.74],[149.77,15.76],[149.57,15.73],[149.36,15.78],[149.16,15.75],[148.96,15.77],[148.76,15.74],[148.57,15.76],
[150.21,15.92],[150.01,15.89],[149.80,15.91],[149.60,15.88],[149.40,15.93],[149.19,15.90],[148.99,15.92],[148.79,15.89],[148.59,15.91],[148.45,15.90],
[150.20,16.07],[150.00,16.04],[149.80,16.08],[149.59,16.05],[149.39,16.08],[149.18,16.04],[148.98,16.07],[148.78,16.05],[148.57,16.08],
[150.17,16.19],[149.96,16.22],[149.75,16.20],[149.55,16.23],[149.34,16.18],[149.13,16.21],[148.93,16.19],[148.72,16.22],[148.52,16.20],
[150.19,16.37],[149.98,16.34],[149.78,16.36],[149.58,16.33],[149.38,16.37],[149.18,16.35],[148.98,16.38],[148.79,16.34],[148.60,16.36],
[150.11,16.49],[149.90,16.52],[149.70,16.50],[149.49,16.53],[149.29,16.49],[149.08,16.51],[148.88,16.48],[148.67,16.52],
[150.02,16.67],[149.81,16.64],[149.61,16.66],[149.40,16.63],[149.19,16.67],[148.98,16.65],[148.77,16.68],
[149.91,16.79],[149.70,16.82],[149.49,16.80],[149.28,16.83],[149.07,16.79],[148.86,16.81],
[149.73,16.97],[149.52,16.94],[149.31,16.98],[149.10,16.95]];
const field9 = [[146.85,15.17],[147.06,15.12],[147.27,15.16],[147.46,15.20],
[146.60,15.33],[146.82,15.27],[147.01,15.31],[147.23,15.28],[147.42,15.32],[147.62,15.29],
[146.45,15.47],[146.66,15.43],[146.85,15.46],[147.06,15.42],[147.27,15.47],[147.45,15.44],[147.66,15.48],[147.83,15.43],
[146.35,15.61],[146.54,15.58],[146.74,15.63],[146.95,15.59],[147.15,15.62],[147.36,15.57],[147.55,15.61],[147.73,15.58],[147.92,15.63],
[146.28,15.77],[146.47,15.73],[146.68,15.76],[146.88,15.72],[147.09,15.78],[147.29,15.74],[147.49,15.77],[147.68,15.73],[147.88,15.76],[148.03,15.74],
[146.23,15.92],[146.43,15.88],[146.63,15.91],[146.82,15.87],[147.03,15.93],[147.23,15.89],[147.42,15.92],[147.62,15.88],[147.82,15.91],[148.01,15.87],
[146.20,16.06],[146.38,16.03],[146.58,16.07],[146.78,16.02],[146.98,16.06],[147.18,16.04],[147.37,16.08],[147.58,16.03],[147.77,16.06],[147.96,16.02],[148.10,16.07],
[146.25,16.22],[146.45,16.18],[146.66,16.21],[146.87,16.17],[147.07,16.22],[147.27,16.19],[147.47,16.23],[147.68,16.18],[147.87,16.21],[148.06,16.17],
[146.22,16.33],[146.41,16.37],[146.61,16.34],[146.81,16.38],[147.01,16.32],[147.21,16.36],[147.41,16.33],[147.60,16.37],[147.80,16.34],[147.99,16.38],
[146.29,16.52],[146.49,16.48],[146.70,16.51],[146.90,16.47],[147.11,16.52],[147.32,16.49],[147.52,16.53],[147.72,16.48],[147.91,16.51],
[146.35,16.63],[146.55,16.67],[146.75,16.64],[146.96,16.68],[147.16,16.63],[147.37,16.66],[147.57,16.62],[147.77,16.67],[147.95,16.64],
[146.44,16.82],[146.64,16.78],[146.84,16.81],[147.05,16.77],[147.25,16.82],[147.46,16.79],[147.66,16.83],[147.85,16.78],
[146.59,16.93],[146.80,16.97],[147.00,16.94],[147.21,16.98],[147.41,16.93],[147.61,16.96],
[146.82,17.08],[147.03,17.12],[147.24,17.09],[147.44,17.13],
[146.73,15.22],[146.94,15.25],[147.16,15.20],[147.37,15.24],[147.56,15.21],
[146.55,15.39],[146.75,15.35],[146.96,15.38],[147.17,15.36],[147.36,15.40],[147.56,15.37],[147.75,15.39],
[146.44,15.54],[146.64,15.50],[146.85,15.53],[147.05,15.51],[147.25,15.55],[147.46,15.52],[147.65,15.49],[147.84,15.53],
[146.37,15.69],[146.58,15.66],[146.78,15.68],[146.99,15.65],[147.20,15.70],[147.39,15.67],[147.59,15.69],[147.79,15.66],[147.96,15.68],
[146.32,15.84],[146.53,15.81],[146.73,15.83],[146.93,15.80],[147.14,15.85],[147.34,15.82],[147.54,15.84],[147.74,15.81],[147.93,15.83],
[146.29,15.99],[146.49,15.96],[146.70,15.98],[146.90,15.95],[147.10,16.00],[147.31,15.97],[147.51,15.99],[147.71,15.96],[147.91,15.98],[148.05,15.97],
[146.30,16.14],[146.50,16.11],[146.70,16.15],[146.91,16.12],[147.11,16.15],[147.32,16.11],[147.52,16.14],[147.72,16.12],[147.93,16.15],
[146.33,16.26],[146.54,16.29],[146.75,16.27],[146.95,16.30],[147.16,16.25],[147.37,16.28],[147.57,16.26],[147.78,16.29],[147.98,16.27],
[146.31,16.44],[146.52,16.41],[146.72,16.43],[146.92,16.40],[147.12,16.44],[147.32,16.42],[147.52,16.45],[147.71,16.41],[147.90,16.43],
[146.39,16.56],[146.60,16.59],[146.80,16.57],[147.01,16.60],[147.21,16.56],[147.42,16.58],[147.62,16.55],[147.83,16.59],
[146.48,16.74],[146.69,16.71],[146.89,16.73],[147.10,16.70],[147.31,16.74],[147.52,16.72],[147.73,16.75],
[146.59,16.86],[146.80,16.89],[147.01,16.87],[147.22,16.90],[147.43,16.86],[147.64,16.88],
[146.77,17.04],[146.98,17.01],[147.19,17.05],[147.40,17.02]];

// S5 non-members, bottom panel [RA, velocity]
const s5NonMemberBottom = [[164.29,315.5],[163.90,309.8],[164.38,305.3],[164.63,296.9],[164.04,288.4],[163.14,283.8],[162.54,281.8],[162.17,283.0],
[162.02,281.5],[161.91,283.9],[162.38,313.2],[161.51,302.9],[161.02,313.4],[164.91,279.7],[163.92,279.5],[163.92,277.4],[164.16,277.0],[162.44,276.1],
[161.76,278.9],[161.56,280.4],[161.34,280.0],[161.31,276.6],[161.89,273.3],[162.78,263.6],[162.53,264.4],[162.85,253.4],[162.72,253.4],[162.20,252.0],
[162.21,243.3],[161.50,242.2],[161.29,241.1],[161.53,234.5],[162.11,232.7],[161.65,231.3],[162.53,230.2],[163.51,231.1],[163.70,233.2],[164.25,235.7],
[164.12,251.4],[163.97,253.4],[164.64,264.1],[163.52,241.5],[163.32,269.2],
[160.98,313.4],[160.28,309.3],[159.88,317.5],[158.74,304.9],[158.92,302.1],[159.60,295.8],[159.36,294.5],[160.02,287.0],[160.43,273.4],[158.22,279.5],
[158.20,278.6],[157.90,318.4],[157.35,319.7],[157.66,306.1],[157.10,305.7],[158.01,302.0],[157.15,302.5],[157.17,301.2],[158.03,293.5],[157.55,292.2],
[157.41,294.9],[157.12,293.5],[157.77,289.6],[156.62,309.0],[156.18,314.9],[155.69,315.6],[155.49,318.0],[155.44,299.4],[155.29,293.5],[155.99,296.5],
[154.46,295.4],[154.16,292.9],[154.14,290.9],[153.60,307.2],[153.49,309.3],[154.03,279.5],[153.74,279.5],[154.18,277.4],[155.39,275.3],[153.93,273.7],
[155.59,271.8],[153.44,269.2],[154.07,264.7],[157.18,268.4],[156.93,266.6],[156.82,263.3],[156.15,260.3],[155.76,255.2],[156.52,253.1],[156.98,252.0],
[155.43,247.8],[155.22,246.9],[154.74,246.7],[153.48,243.9],[154.10,242.8],[155.07,240.9],[153.65,237.0],[155.50,237.6],[155.58,234.1],[155.85,231.9],
[154.13,231.4],[153.89,231.4],[157.21,244.5],[157.55,242.6],[157.06,231.9],[157.71,230.6],[160.98,232.5],[160.04,232.1],[158.79,266.2],[158.49,263.6],
[159.46,246.5],
[152.48,317.4],[153.13,312.1],[152.13,300.8],[151.95,296.5],[150.49,314.3],[150.97,306.3],[151.31,300.3],[151.43,311.6],[152.78,286.3],[152.80,284.0],
[152.49,281.6],[151.55,285.3],[151.69,284.1],[151.75,280.0],[150.97,285.8],[151.14,276.6],[151.12,272.6],[150.75,272.0],[153.33,272.1],[153.28,268.0],
[152.34,268.2],[151.84,268.6],[151.28,266.5],[151.04,262.0],[151.49,260.7],[150.73,260.0],[152.27,258.2],[151.92,254.0],[150.75,254.0],[151.00,252.7],
[150.80,251.3],[152.03,251.0],[151.66,249.7],[153.05,250.0],[152.18,245.2],[151.72,243.3],[151.50,240.1],[151.12,239.1],[153.23,238.1],[152.48,235.8],
[153.01,233.2],[151.10,233.7],[151.67,231.6],[152.11,230.7],
[149.67,316.3],[149.15,314.0],[149.43,319.7],[148.91,319.1],[148.85,315.8],[148.42,317.4],[148.24,311.4],[147.95,314.5],[147.38,314.6],[147.31,314.6],
[146.63,315.4],[146.63,312.1],[146.42,312.0],[146.43,307.8],[147.14,306.5],[146.57,306.5],[146.45,304.8],[146.48,303.4],[149.56,301.5],[149.92,296.9],
[150.27,295.0],[149.45,294.5],[149.28,300.6],[148.44,302.0],[148.41,300.1],[147.99,301.1],[147.76,299.7],[147.51,298.4],[147.26,299.2],[147.23,297.7],
[147.11,294.2],[147.95,295.4],[146.78,300.0],[146.89,298.0],[146.49,297.4],[146.76,294.8],[146.67,293.2],[146.10,292.7],[147.39,290.7],[147.32,290.4],
[149.45,287.2],[149.38,289.0],[149.66,282.4],[147.90,288.7],[147.90,285.5],[147.68,286.5],[147.55,288.7],[147.30,285.5],[147.38,282.6],[147.25,282.6],
[147.14,282.0],[146.79,286.5],[146.35,287.4],[146.18,283.9],[146.38,282.0],[146.43,280.0],[146.06,281.4],[148.88,275.7],[148.64,279.2],[148.42,282.9],
[148.15,283.3],[148.12,282.0],[148.52,275.6],[148.41,276.8],[148.34,275.3],[148.52,274.2],[147.90,275.9],[147.82,276.8],[147.73,277.1],[147.68,278.5],
[147.67,276.2],[147.58,276.5],[147.45,276.8],[147.92,274.2],[147.86,272.1],[147.73,270.7],[147.89,270.7],[147.06,274.8],[147.06,272.4],[147.32,271.3],
[147.26,270.4],[146.87,272.0],[146.71,275.2],[146.59,274.2],[146.32,270.7],[149.92,271.9],[149.44,270.5],[149.69,269.5],[149.74,267.6],[149.56,266.1],
[149.22,267.5],[148.66,270.4],[148.15,269.5],[148.47,265.9],[148.54,263.3],[148.75,263.4],[149.01,262.6],[147.54,265.8],[146.59,268.4],[146.68,263.9],
[146.56,264.4],[146.41,265.6],[146.03,264.4],[149.94,259.7],[149.61,259.1],[149.45,258.0],[149.22,258.6],[149.09,257.2],[148.54,258.8],[148.33,258.8],
[148.15,257.1],[148.45,257.1],[148.57,255.9],[148.45,255.6],[148.24,253.9],[148.30,252.7],[148.17,252.6],[147.89,259.4],[147.39,257.1],[147.38,255.3],
[146.93,255.3],[146.79,260.0],[146.68,253.3],[146.63,252.1],[146.38,252.7],[146.53,250.7],[146.32,257.1],[146.24,259.1],[146.22,257.9],[146.07,254.7],
[147.41,250.7],[147.17,249.8],[147.09,250.9],[146.96,251.6],[146.06,249.2],[148.81,246.2],[148.84,243.5],[148.47,244.3],[147.92,248.1],[147.52,245.2],
[147.10,244.3],[147.00,246.9],[146.70,248.1],[146.85,242.6],[146.66,242.0],[146.27,244.1],[150.01,242.3],[150.07,241.4],[149.64,240.0],[149.56,237.7],
[149.45,234.2],[149.20,236.8],[148.65,234.8],[148.23,236.2],[148.21,233.9],[147.92,238.2],[147.40,238.2],[147.30,236.5],[147.12,236.5],[147.26,231.9],
[146.88,236.0],[146.78,237.1],[146.62,236.2],[146.46,236.2],[146.24,237.9],[146.15,238.2],[146.09,234.8],[146.78,232.1],[149.00,231.3]];

// ---------------- DRAWING ----------------
const FONT = '"DejaVu Sans", "Liberation Sans", sans-serif';
const C = {
  grid:'#b0b0b0', gray:'#c9c9c9', grayFill:'#e2e2e2', blueFill:'#4682b4', blueEdge:'#1b2a80',
  starEdge:'#556b2f', xFill:'#ff0000', xEdge:'#8b0000'
};
const svg = d3.select('#chart');
const x = d3.scaleLinear().domain([167,146]).range([206.5,2634]);
const yTop = d3.scaleLinear().domain([13,17.5]).range([625,1.3]);
const yBot = d3.scaleLinear().domain([230,320]).range([1373.5,750]);

function starPath(R){
  const r = R*0.381966, p=[];
  for(let i=0;i<10;i++){const a=-Math.PI/2+i*Math.PI/5, rr=i%2?r:R; p.push([rr*Math.cos(a), rr*Math.sin(a)]);}
  return 'M'+p.map(q=>q[0].toFixed(2)+','+q[1].toFixed(2)).join('L')+'Z';
}
const plusPts=[[-1,-3],[1,-3],[1,-1],[3,-1],[3,1],[1,1],[1,3],[-1,3],[-1,1],[-3,1],[-3,-1],[-1,-1]];
function xMarkPath(S){
  const c=Math.SQRT1_2;
  return 'M'+plusPts.map(([a,b])=>((a*c-b*c)*S/6).toFixed(2)+','+((a*c+b*c)*S/6).toFixed(2)).join('L')+'Z';
}
const STAR = starPath(29.5), XM = xMarkPath(46);

function drawGray(g, pts){
  g.selectAll(null).data(pts).enter().append('circle')
    .attr('cx',d=>d[0]).attr('cy',d=>d[1]).attr('r',4.8)
    .attr('fill',C.grayFill).attr('stroke',C.gray).attr('stroke-width',2.6);
}
function drawBlue(g, pts){
  g.selectAll(null).data(pts).enter().append('circle')
    .attr('cx',d=>d[0]).attr('cy',d=>d[1]).attr('r',13)
    .attr('fill',C.blueFill).attr('stroke',C.blueEdge).attr('stroke-width',3);
}
function drawStars(g, pts){
  g.selectAll(null).data(pts).enter().append('path').attr('d',STAR)
    .attr('transform',d=>`translate(${d[0]},${d[1]})`)
    .attr('fill','none').attr('stroke',C.starEdge).attr('stroke-width',5.5).attr('stroke-linejoin','round');
}
function drawX(g, pts){
  g.selectAll(null).data(pts).enter().append('path').attr('d',XM)
    .attr('transform',d=>`translate(${d[0]},${d[1]})`)
    .attr('fill',C.xFill).attr('stroke',C.xEdge).attr('stroke-width',2.5).attr('stroke-linejoin','miter');
}

function makePanel(id, yScale, yTicks){
  const [y0,y1] = [yScale.range()[1], yScale.range()[0]];
  const x0 = x.range()[0], x1 = x.range()[1];
  svg.append('clipPath').attr('id','clip'+id).append('rect')
    .attr('x',x0).attr('y',y0).attr('width',x1-x0).attr('height',y1-y0);
  const grid = svg.append('g');
  grid.selectAll(null).data(raTickValues).enter().append('line')
    .attr('x1',d=>x(d)).attr('x2',d=>x(d)).attr('y1',y0).attr('y2',y1)
    .attr('stroke',C.grid).attr('stroke-width',2.8);
  grid.selectAll(null).data(yTicks).enter().append('line')
    .attr('x1',x0).attr('x2',x1).attr('y1',d=>yScale(d)).attr('y2',d=>yScale(d))
    .attr('stroke',C.grid).attr('stroke-width',2.8);
  const plot = svg.append('g').attr('clip-path',`url(#clip${id})`);
  return {plot, x0, x1, y0, y1};
}
function finishPanel(P, yScale, yTicks){
  svg.append('rect').attr('x',P.x0).attr('y',P.y0).attr('width',P.x1-P.x0).attr('height',P.y1-P.y0)
    .attr('fill','none').attr('stroke','#000').attr('stroke-width',3);
  const ax = svg.append('g').attr('transform',`translate(0,${P.y1})`)
    .call(d3.axisBottom(x).tickValues(raTickValues).tickFormat(d3.format('d')).tickSize(13.5).tickPadding(15).tickSizeOuter(0));
  const ay = svg.append('g').attr('transform',`translate(${P.x0},0)`)
    .call(d3.axisLeft(yScale).tickValues(yTicks).tickFormat(d3.format('d')).tickSize(13.5).tickPadding(13).tickSizeOuter(0));
  [ax,ay].forEach(a=>{
    a.select('.domain').remove();
    a.selectAll('.tick line').attr('stroke','#000').attr('stroke-width',3);
    a.selectAll('.tick text').attr('fill','#000').attr('font-family',FONT).attr('font-size',48);
    a.attr('font-family',FONT).attr('font-size',48);
  });
  ay.selectAll('.tick text').attr('dy','0.36em');
  // keep the last RA label inside the canvas edge
  ax.selectAll('.tick text').filter(d=>d===146).attr('dx',-4);
}

// ---- Top panel: Dec vs RA
const PT = makePanel('T', yTop, decTickValues);
const topGray = [].concat(field1,field2,field3,field4,field5,field6,field7,field8,field9);
drawGray(PT.plot, topGray.map(d=>[x(d[0]),yTop(d[1])]));
drawBlue(PT.plot, s5MemberTop.map(d=>[x(d[0]),yTop(d[1])]));
drawStars(PT.plot, mikeMemberRA.map((r,i)=>[x(r),yTop(mikeMemberDec[i])]));
drawX(PT.plot, mikeNonRA.map((r,i)=>[x(r),yTop(mikeNonDec[i])]));
finishPanel(PT, yTop, decTickValues);

// ---- Bottom panel: velocity vs RA
const PB = makePanel('B', yBot, velTickValues);
drawGray(PB.plot, s5NonMemberBottom.map(d=>[x(d[0]),yBot(d[1])]));
drawBlue(PB.plot, s5MemberBottom.map(d=>[x(d[0]),yBot(d[1])]));
drawStars(PB.plot, mikeMemberRA.map((r,i)=>[x(r),yBot(mikeMemberVel[i])]));
drawX(PB.plot, mikeNonRA.map((r,i)=>[x(r),yBot(mikeNonVel[i])]));
finishPanel(PB, yBot, velTickValues);

// ---- Legend
const lg = svg.append('g');
lg.append('rect').attr('x',227.7).attr('y',1084).attr('width',1010).attr('height',268).attr('rx',11)
  .attr('fill','#fff').attr('fill-opacity',0.8).attr('stroke','#d4d4d4').attr('stroke-width',3);
const rowY = [1118,1182,1246,1310], mx = 289, tx = 369;
drawStars(lg, [[mx,rowY[0]]]);
drawX(lg, [[mx,rowY[1]]]);
drawBlue(lg, [[mx,rowY[2]]]);
drawGray(lg, [[mx,rowY[3]]]);
lg.selectAll(null).data(legendLabels).enter().append('text')
  .attr('x',tx).attr('y',(d,i)=>rowY[i]).attr('dy','0.36em')
  .attr('font-family',FONT).attr('font-size',43.3).attr('fill','#000').text(d=>d);

// ---- Axis labels
svg.append('text').attr('x',1420).attr('y',1501).attr('text-anchor','middle')
  .attr('font-family',FONT).attr('font-size',51).attr('fill','#000').text('Right Ascension (Degrees)');
svg.append('text').attr('transform','translate(93,335) rotate(-90)').attr('text-anchor','middle')
  .attr('font-family',FONT).attr('font-size',44).attr('fill','#000').text('Declination (Degrees)');
const yl = svg.append('text').attr('transform','translate(62,1046) rotate(-90)').attr('text-anchor','middle')
  .attr('font-family',FONT).attr('font-size',44).attr('fill','#000');
yl.append('tspan').text('Heliocentric Velocity (km s');
yl.append('tspan').attr('dy',-16).attr('font-size',31).text('\u22121');
yl.append('tspan').attr('dy',16).text(')');
</script>
</body></html>
